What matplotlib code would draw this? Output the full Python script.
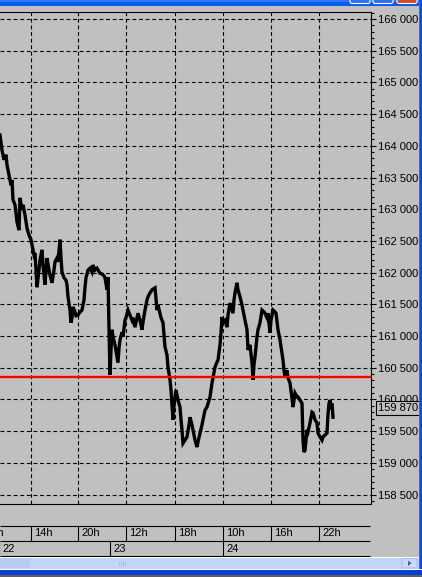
import matplotlib
matplotlib.use("Agg")
import matplotlib.pyplot as plt
from matplotlib.patches import Rectangle, FancyBboxPatch, Polygon
from matplotlib.ticker import MultipleLocator, FixedLocator, FuncFormatter
import matplotlib.transforms as mtransforms

# ---------------- data ----------------
bar_idx = [0, 2, 4, 6, 7, 9, 11, 12, 13, 15, 17, 19, 20, 22, 23, 25, 27, 29, 31, 32,
           34, 35, 37, 39, 40, 42, 43, 45, 46, 47, 49, 50, 52, 54, 55, 57, 58, 60, 61, 62,
           64, 66, 67, 68, 70, 71, 72, 73, 75, 76, 78, 80, 82, 84, 85, 86, 88, 90, 92, 93,
           95, 97, 100, 102, 104, 105, 106, 107, 108, 109, 110, 111, 112, 113, 115, 117, 118, 119, 120, 122,
           123, 125, 126, 128, 130, 132, 133, 135, 137, 138, 140, 142, 143, 145, 147, 148, 150, 152, 155, 157,
           158, 160, 161, 163, 165, 167, 168, 170, 171, 172, 173, 174, 176, 178, 180, 181, 182, 183, 185, 187,
           189, 190, 192, 193, 195, 197, 198, 200, 202, 203, 205, 207, 209, 210, 212, 213, 215, 217, 218, 220,
           221, 222, 223, 225, 227, 228, 230, 232, 233, 234, 235, 237, 238, 240, 242, 243, 245, 247, 248, 250,
           252, 253, 254, 255, 257, 258, 260, 262, 264, 265, 267, 268, 270, 271, 273, 275, 276, 278, 280, 281,
           283, 284, 285, 287, 288, 290, 292, 293, 295, 297, 298, 300, 302, 303, 304, 305, 306, 307, 308, 310,
           312, 313, 315, 317, 318, 320, 322, 323, 325, 327, 328, 329, 330, 331, 332, 333]
price = [164170, 163930, 163780, 163860, 163700, 163540, 163380, 163460, 163150, 163070,
         162800, 162670, 163180, 162990, 163070, 162910, 162700, 162590, 162520, 162440,
         162280, 162310, 161770, 162040, 162200, 162360, 162120, 161810, 162040, 162230,
         162040, 161960, 161840, 162040, 162170, 162230, 162170, 162520, 162230, 162010,
         161920, 161880, 161810, 161620, 161410, 161210, 161290, 161460, 161380, 161320,
         161330, 161380, 161410, 161570, 161770, 161920, 162040, 162070, 162010, 162120,
         162040, 162070, 161990, 161980, 161950, 161920, 161820, 161730, 161930, 161100,
         160390, 160780, 161100, 160990, 160860, 160670, 160580, 160810, 160940, 161060,
         160990, 161250, 161290, 161410, 161330, 161250, 161290, 161140, 161290, 161360,
         161250, 161100, 161220, 161410, 161570, 161620, 161680, 161730, 161760, 161410,
         161490, 161360, 161290, 161210, 160830, 160700, 160510, 160310, 160150, 159910,
         159680, 159910, 160150, 159990, 159880, 159680, 159520, 159310, 159360, 159410,
         159600, 159720, 159600, 159520, 159360, 159250, 159330, 159470, 159600, 159680,
         159830, 159880, 159990, 160040, 160260, 160340, 160510, 160590, 160620, 160860,
         161050, 161300, 161220, 161250, 161140, 161330, 161520, 161410, 161360, 161570,
         161680, 161840, 161730, 161620, 161490, 161410, 161250, 161100, 160780, 160860,
         160580, 160310, 160550, 160670, 160990, 161100, 161210, 161410, 161380, 161360,
         161290, 161360, 161050, 161250, 161410, 161380, 161360, 161100, 160940, 160830,
         160620, 160460, 160350, 160460, 160340, 160260, 160020, 159880, 160100, 160040,
         160040, 159990, 159940, 159360, 159170, 159200, 159360, 159520, 159490, 159630,
         159800, 159790, 159680, 159630, 159470, 159410, 159360, 159410, 159440, 159470,
         159760, 159940, 159990, 159910, 159940, 159720]

price_ticks = [158500, 159000, 159500, 160000, 160500, 161000, 161500, 162000,
               162500, 163000, 163500, 164000, 164500, 165000, 165500, 166000]
hour_pos = [-17, 31, 78, 126, 175, 223, 271, 319]
hour_labels = ["08h", "14h", "20h", "12h", "18h", "10h", "16h", "22h"]
day_pos = [-1, 110, 223]
day_labels = ["22", "23", "24"]
ref_level = 160360
last_price = 159870

# ---------------- layout ----------------
W, H, DPI = 422, 577, 100
GREY = "#C0C0C0"
plt.rcParams["font.family"] = ["Liberation Sans", "DejaVu Sans"]
FS = 8.0
PX = 72.0 / DPI  # points per pixel

fig = plt.figure(figsize=(W / DPI, H / DPI), dpi=DPI)
fig.patch.set_facecolor(GREY)


def fx(p):
    return p / W


def fy(p):
    return 1 - p / H


# main price axes: pixels x 0..371, y 12..504
ax = fig.add_axes([0, fy(504), fx(371), (504 - 12) / H])
ax.set_facecolor(GREY)
for s in ["top", "right", "bottom"]:
    ax.spines[s].set_linewidth(PX * 1.1)
    ax.spines[s].set_color("black")
ax.spines["left"].set_visible(False)

ax.set_xticks(hour_pos)
ax.tick_params(axis="x", length=0, labelbottom=False)
ax.yaxis.tick_right()
ax.yaxis.set_major_locator(FixedLocator(price_ticks))
ax.yaxis.set_minor_locator(MultipleLocator(100))
ax.yaxis.set_major_formatter(FuncFormatter(lambda v, p: f"{int(round(v)):,}".replace(",", " ")))
ax.tick_params(axis="y", which="major", length=5 * PX, width=PX * 1.1, color="black",
               pad=2 * PX, labelsize=FS, labelcolor="black")
ax.tick_params(axis="y", which="minor", length=3 * PX, width=PX * 1.1, color="black")
ax.set_axisbelow(True)
ax.grid(True, which="major", axis="both", color="black", linewidth=PX * 1.1,
        linestyle=(0, (3.5, 2.5)))

ax.plot(bar_idx, price, color="black", linewidth=2.4, solid_joinstyle="miter", zorder=3)
ax.axhline(ref_level, color="#FF0000", linewidth=1.7, zorder=4)
ax.set_xlim(0, 371)
ax.set_ylim(158352, 166110)

blend = mtransforms.blended_transform_factory(ax.transAxes, ax.transData)
ax.text(378.5 / 371, last_price, f"{last_price:,}".replace(",", " "), transform=blend,
        ha="left", va="center", fontsize=FS, color="black", zorder=6, clip_on=False,
        bbox=dict(boxstyle="square,pad=0.2", fc=GREY, ec="black", lw=PX * 1.1))

# time axis rows: pixels y 526..556
tax = fig.add_axes([0, fy(556), fx(370), 30 / H])
tax.set_facecolor(GREY)
tax.patch.set_alpha(0)
tax.axis("off")
tax.hlines([0, 1, 2], 0, 370, color="black", linewidth=PX * 1.1, clip_on=False)
tax.vlines(hour_pos, 1, 2, color="black", linewidth=PX * 1.1)
tax.vlines(day_pos, 0, 1, color="black", linewidth=PX * 1.1)
for p, lab in zip(hour_pos, hour_labels):
    tax.text(p + 3, 1.5, lab, ha="left", va="center", fontsize=FS, clip_on=True)
for p, lab in zip(day_pos, day_labels):
    tax.text(p + 3.5, 0.5, lab, ha="left", va="center", fontsize=FS, clip_on=True)
tax.set_xlim(0, 370)
tax.set_ylim(0, 2)

# window chrome (pixel coordinates)
ch = fig.add_axes([0, 0, 1, 1], zorder=10)
ch.set_xlim(0, W)
ch.set_ylim(H, 0)
ch.axis("off")
ch.patch.set_alpha(0)
ch.add_patch(Rectangle((0, 0), W, 5.5, color="#0B5BEA", lw=0))
ch.add_patch(Rectangle((0, 0), W, 2, color="#2A78F5", lw=0))
for x0, c in [(350, "#2D6FF0"), (373, "#2D6FF0"), (397, "#D64A25")]:
    ch.add_patch(FancyBboxPatch((x0, -3), 20, 6.5, boxstyle="round,pad=0,rounding_size=2",
                                fc=c, ec="white", lw=0.8))
ch.add_patch(Rectangle((418.5, 0), 3.5, H, color="#0D4CDF", lw=0))
ch.add_patch(Rectangle((418.5, 0), 1.2, H, color="#2F6AF0", lw=0))
# scrollbar
ch.add_patch(Rectangle((0, 557), 418.5, 12, color="#C3D4FA", lw=0))
ch.add_patch(Rectangle((0, 557), 418.5, 1.3, color="#FFFFFF", lw=0))
ch.add_patch(Rectangle((0, 558.3), 30, 10, color="#B8CBF5", lw=0))
for gx in [118.5, 120.5, 122.5, 124.5]:
    ch.plot([gx, gx], [560.5, 566], color="#FFFFFF", lw=0.6)
    ch.plot([gx + 0.8, gx + 0.8], [560.5, 566], color="#8FA9E8", lw=0.5)
ch.add_patch(FancyBboxPatch((402, 558.5), 15, 9.5, boxstyle="round,pad=0,rounding_size=1.5",
                            fc="#C9D8FB", ec="#9DB5F0", lw=0.6))
ch.add_patch(Polygon([[408, 560.5], [408, 566], [411.5, 563.2]], closed=True, color="#4D6185", lw=0))
ch.add_patch(Rectangle((0, 568.5), W, 1.2, color="#FFFFFF", lw=0))
ch.add_patch(Rectangle((0, 569.5), W, 5, color="#0A3FD6", lw=0))
ch.add_patch(Rectangle((0, 574.5), W, 3, color="#5E5E5E", lw=0))

fig.savefig("out.png", dpi=DPI, facecolor=GREY)
